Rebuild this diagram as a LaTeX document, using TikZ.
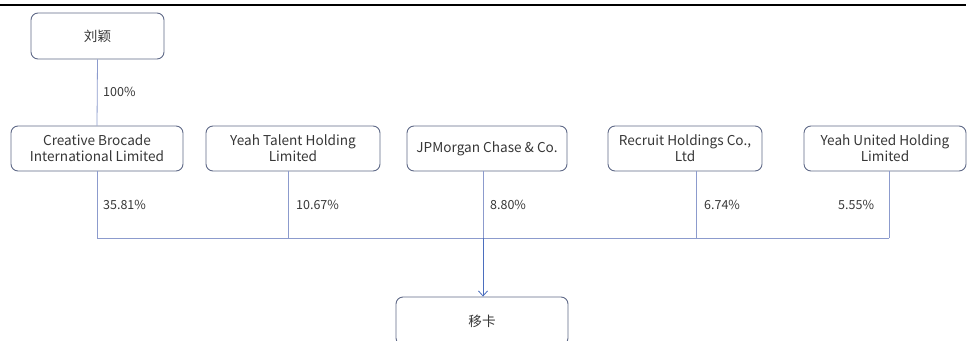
\documentclass[tikz,border=0pt]{standalone}
\usepackage{fontspec}
\setmainfont{Noto Sans CJK SC}
\usetikzlibrary{arrows.meta}
\definecolor{boxline}{RGB}{95,105,135}
\definecolor{conn}{RGB}{140,155,205}
\definecolor{arrowc}{RGB}{75,110,190}
\definecolor{txt}{RGB}{55,55,55}
\begin{document}
\begin{tikzpicture}[x=1pt,y=1pt,
  box/.style={draw=boxline,line width=0.9pt,rounded corners=7pt,fill=white,align=center,
    text=txt,font=\fontsize{13.6}{16}\selectfont,inner sep=0pt},
  pct/.style={anchor=west,text=txt,font=\fontsize{12.5}{14}\selectfont,inner sep=0pt},
  link/.style={draw=conn,line width=0.8pt}]
\useasboundingbox (0,0) rectangle (971,-340);
\clip (0,0) rectangle (971,-340);
\draw[line width=1.2pt,black] (0,-5) -- (966,-5);
\node[box,minimum width=133pt,minimum height=46pt] (ly) at (97.5,-36) {刘颖};
\node[box,minimum width=172pt,minimum height=45pt] (b1) at (97,-148.5) {Creative Brocade\\International Limited};
\node[box,minimum width=174pt,minimum height=45pt] (b2) at (293,-148.5) {Yeah Talent Holding\\Limited};
\node[box,minimum width=160pt,minimum height=45pt] (b3) at (487,-148.5) {JPMorgan Chase \& Co.};
\node[box,minimum width=154pt,minimum height=45pt] (b4) at (685,-148.5) {Recruit Holdings Co.,\\Ltd};
\node[box,minimum width=162pt,minimum height=45pt] (b5) at (885,-148.5) {Yeah United Holding\\Limited};
\node[box,minimum width=172pt,minimum height=48pt] (yk) at (482,-321) {移卡};
\coordinate (j1) at (97,-238);
\coordinate (j2) at (288,-238);
\coordinate (j3) at (483,-238);
\coordinate (j4) at (696,-238);
\coordinate (j5) at (889,-238);
\draw[link] (ly.south) -- (b1.north);
\draw[link] (b1.south -| j1) -- (j1);
\draw[link] (b2.south -| j2) -- (j2);
\draw[link] (b3.south -| j3) -- (j3);
\draw[link] (b4.south -| j4) -- (j4);
\draw[link] (b5.south -| j5) -- (j5);
\draw[link] (j1) -- (j5);
\draw[draw=arrowc,line width=0.8pt,-{Straight Barb[length=5pt,width=9pt]}] (j3) -- (j3 |- yk.north);
\node[pct] (p0) at (103,-92) {100\%};
\node[pct] (p1) at (103,-205) {35.81\%};
\node[pct] (p2) at (296,-205) {10.67\%};
\node[pct] (p3) at (490,-205) {8.80\%};
\node[pct] (p4) at (704,-205) {6.74\%};
\node[pct] (p5) at (838,-205) {5.55\%};
\end{tikzpicture}
\end{document}
